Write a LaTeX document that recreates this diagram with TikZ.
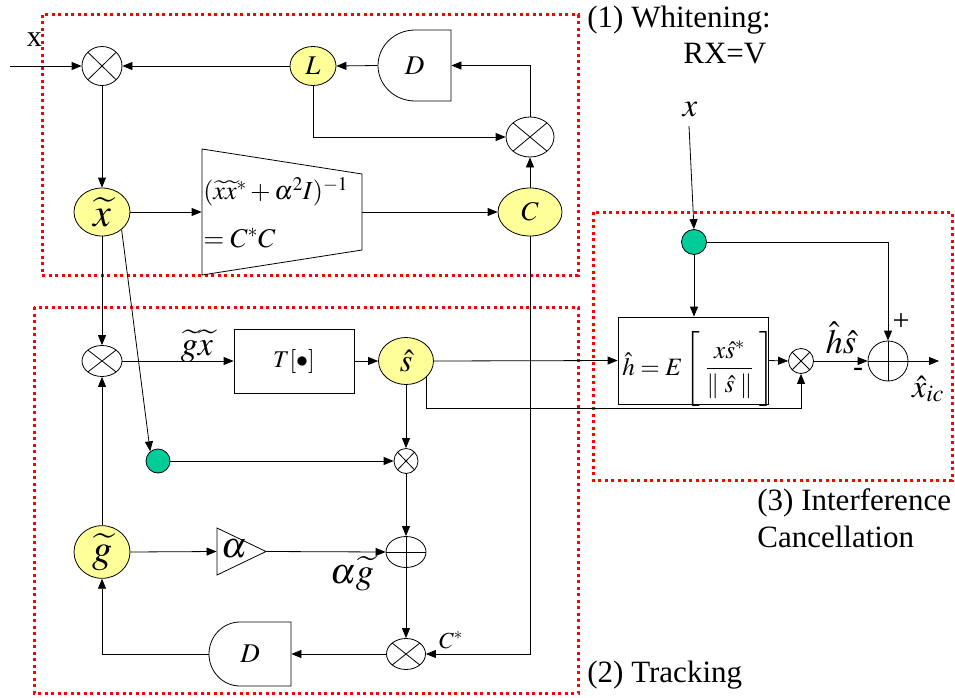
\documentclass[tikz,border=0pt]{standalone}
\usepackage{mathptmx}
\usepackage{fontspec}
\setmainfont{Liberation Serif}
\usetikzlibrary{arrows.meta,calc,shapes.geometric}
\definecolor{yel}{HTML}{FFFF99}
\definecolor{grn}{HTML}{00CC99}
\definecolor{boxred}{HTML}{FF0000}
\newcommand{\fs}[1]{\fontsize{#1}{#1}\selectfont}
\begin{document}
\begin{tikzpicture}[x=1pt,y=-1pt,line width=0.8pt,
  arr/.style={-{Triangle[length=10pt,width=8pt]}},
  yelnode/.style={ellipse,draw,fill=yel,inner sep=0pt},
  mulnode/.style={ellipse,draw,inner sep=0pt,path picture={\draw (path picture bounding box.north west)--(path picture bounding box.south east) (path picture bounding box.north east)--(path picture bounding box.south west);}},
  addnode/.style={ellipse,draw,inner sep=0pt,path picture={\draw (path picture bounding box.west)--(path picture bounding box.east) (path picture bounding box.north)--(path picture bounding box.south);}},
  dotnode/.style={circle,draw,fill=grn,inner sep=0pt,minimum size=24pt},
  ghost/.style={inner sep=0pt},
  lab/.style={inner sep=0pt},
  redframe/.style={draw=boxred,line width=3pt,dash pattern=on 3pt off 3.5pt}]
\useasboundingbox (0,0) rectangle (955,698);

% red frames
\draw[redframe] (42,15) rectangle (578,275);
\draw[redframe] (34,307) rectangle (578,693);
\draw[redframe] (593,212) rectangle (952,480);

% ---- whitening
\node[mulnode,minimum width=40pt,minimum height=39pt] (m1) at (102,66) {};
\node[yelnode,minimum width=46pt,minimum height=39pt] (L) at (313,66) {\fs{27}$L$};
\node[ghost,minimum width=73pt,minimum height=71pt] (D1) at (414.5,65.5) {\fs{27}$D$};
\draw (451,30) -- (415,30) .. controls (394.6,30) and (378,45.9) .. (378,65.5) .. controls (378,85.1) and (394.6,101) .. (415,101) -- (451,101) -- cycle;
\node[mulnode,minimum width=48pt,minimum height=40pt] (m2) at (530,137) {};
\node[yelnode,minimum width=64pt,minimum height=48pt] (C) at (530,212) {\fs{27}$C$};
\node[yelnode,minimum width=56pt,minimum height=48pt] (xt) at (102,212) {\fs{40}$\widetilde{x}$};
\node[ghost,minimum width=160pt,minimum height=126pt] (trap) at (282,212) {};
\draw (202,149) -- (362,174) -- (362,250) -- (202,275) -- cycle;
\node[lab,anchor=west] (tf1) at (203,192) {\fs{26}$(\widetilde{x}\widetilde{x}^{*}+\alpha^{2}I)^{-1}$};
\node[lab,anchor=west] (tf2) at (203,238) {\fs{27}$=C^{*}C$};

\coordinate (xin) at (10,66);
\draw[arr] (xin) -- (m1.west);
\draw[arr] (L.west) -- (m1.east);
\draw[arr] (D1.west) -- (L.east);
\draw[arr] (m2.north) |- (D1.east);
\draw[arr] (L.south) |- (m2.west);
\draw[arr] (C.north) -- (m2.south);
\draw[arr] (m1.south) -- (xt.north);
\draw[arr] (xt.east) -- (trap.west);
\draw[arr] (trap.east) -- (C.west);

% ---- tracking
\node[mulnode,minimum width=40pt,minimum height=31pt] (m3) at (102,361) {};
\node[draw,rectangle,minimum width=120pt,minimum height=64pt,inner sep=0pt] (T) at (294,361) {\fs{24}$T[\bullet]$};
\node[yelnode,minimum width=55pt,minimum height=47pt] (s) at (406,361) {\fs{32}$\hat{s}$};
\node[dotnode] (g1) at (158,461) {};
\node[mulnode,minimum width=24pt,minimum height=25pt] (m6) at (406,461) {};
\node[addnode,minimum width=40pt,minimum height=31pt] (a1) at (406,552) {};
\node[yelnode,minimum width=56pt,minimum height=48pt] (gt) at (102,552) {\fs{40}$\widetilde{g}$};
\node[ghost,minimum width=49pt,minimum height=47pt] (tri) at (241.5,551.5) {};
\draw (217,528) -- (266,551.5) -- (217,575) -- cycle;
\node[lab] (alph) at (234,549) {\fs{36}$\alpha$};
\node[mulnode,minimum width=39pt,minimum height=31pt] (m4) at (406,654) {};
\node[ghost,minimum width=82pt,minimum height=64pt] (D2) at (250,654) {\fs{27}$D$};
\draw (291,622) -- (240,622) .. controls (222.9,622) and (209,636.3) .. (209,654) .. controls (209,671.7) and (222.9,686) .. (240,686) -- (291,686) -- cycle;

\draw[arr] (xt.south) -- (m3.north);
\draw[arr] (xt.-42) -- (g1.129);
\draw[arr] (m3.east) -- (T.west);
\draw[arr] (T.east) -- (s.west);
\draw[arr] (s.south) -- (m6.north);
\draw[arr] (g1.east) -- (m6.west);
\draw[arr] (m6.south) -- (a1.north);
\draw[arr] (a1.south) -- (m4.north);
\draw[arr] (gt.east) -- (tri.west);
\draw[arr] (tri.east) -- (a1.west);
\draw[arr] (m4.west) -- (D2.east);
\draw[arr] (D2.west) -| (gt.south);
\draw[arr] (gt.north) -- (m3.south);
\draw[arr] (C.south) |- (m4.east);

% ---- interference cancellation
\node[dotnode,minimum size=25pt] (g2) at (694,242) {};
\node[draw,rectangle,minimum width=150pt,minimum height=87pt,inner sep=0pt] (H) at (693,360.5) {};
\node[lab,anchor=base west] (hf) at (622,375) {\fs{25}$\hat{h}\;{=}\;E\left[\;\displaystyle\frac{x\hat{s}^{*}}{\|\;\hat{s}\;\|}\vrule height 38pt depth 28pt width 0pt\;\right]$};
\node[mulnode,minimum width=25pt,minimum height=25pt] (m5) at (801,361) {};
\node[addnode,minimum width=40pt,minimum height=40pt] (a2) at (888,361) {};
\coordinate (xtop) at (689,126);
\coordinate (sb) at (801,408);
\coordinate (out) at (939,361);

\draw[arr] (xtop) -- (g2.north);
\draw[arr] (g2.south) -- (g2.south |- H.north);
\draw[arr] (g2.east) -| (a2.north);
\draw[arr] (s.east) -- (H.west);
\draw[arr] (s.-39) |- (sb) -- (m5.south);
\draw[arr] (H.east) -- (m5.west);
\draw[arr] (m5.east) -- (a2.west);
\draw[arr] (a2.east) -- (out);

% ---- labels
\node[lab,anchor=base] (lx) at (34.5,47) {\fs{30}x};
\node[lab,anchor=base west] (l1) at (587,28) {\fs{31}(1) Whitening:};
\node[lab,anchor=base west] (l1b) at (683,64) {\fs{31}RX=V};
\node[lab,anchor=base west] (l2) at (587,682) {\fs{31}(2) Tracking};
\node[lab,anchor=base west] (l3) at (757,510) {\fs{31}(3) Interference};
\node[lab,anchor=base west] (l3b) at (757,547) {\fs{31}Cancellation};
\node[lab,anchor=base] (lxr) at (690,117) {\fs{33}$x$};
\node[lab,anchor=base] (lhs) at (841,353) {\fs{34}$\hat{h}\hat{s}$};
\node[lab] (lminus) at (858,372) {\fs{30}-};
\node[lab] (lplus) at (901,322) {\fs{30}+};
\node[lab,anchor=base] (lxic) at (928,397) {\fs{32}$\hat{x}_{ic}$};
\node[lab,anchor=base] (lgx) at (197,355) {\fs{34}$\widetilde{g}\widetilde{x}$};
\node[lab,anchor=base] (lcs) at (451,648) {\fs{23}$C^{*}$};
\node[lab,anchor=base] (lag) at (352,583) {\fs{36}$\alpha\widetilde{g}$};
\end{tikzpicture}
\end{document}
